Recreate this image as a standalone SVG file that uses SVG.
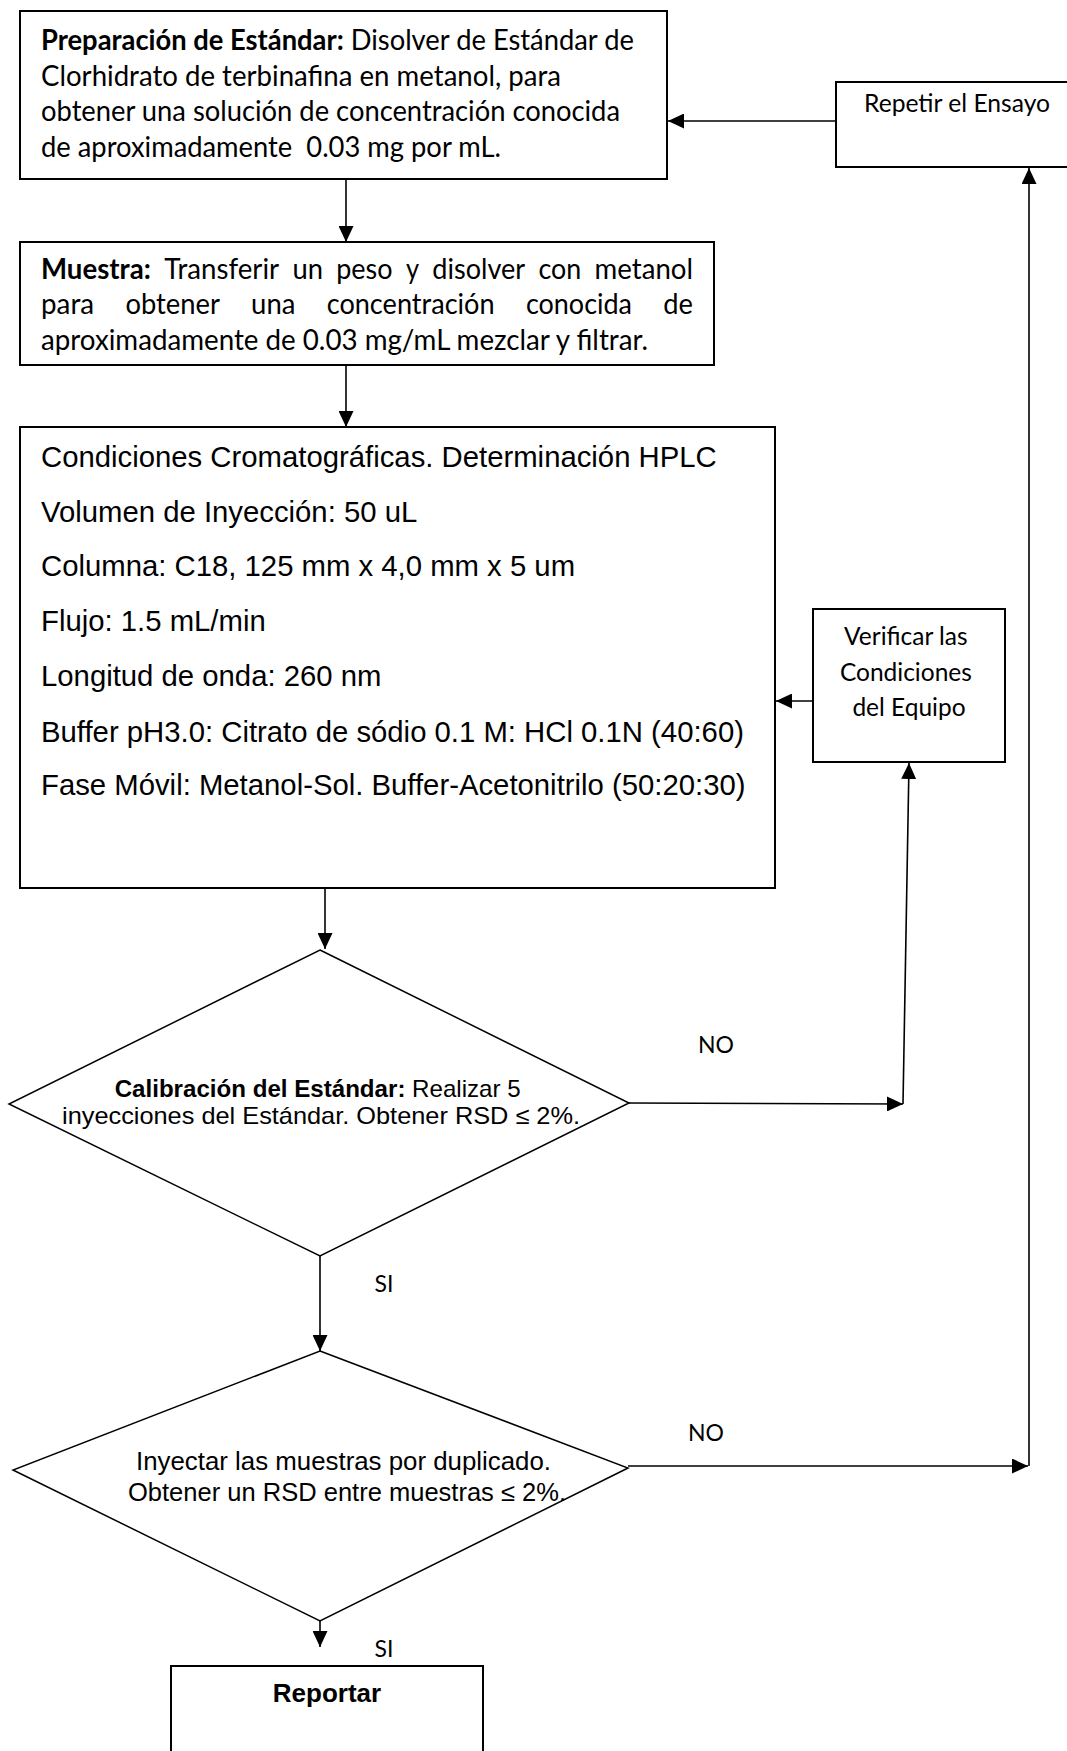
<svg xmlns="http://www.w3.org/2000/svg" width="1067" height="1751" viewBox="0 0 1067 1751">
<style>
.box{fill:#fff;stroke:#000;stroke-width:2}
.dia{fill:#fff;stroke:#000;stroke-width:1.5}
.c{fill:none;stroke:#000;stroke-width:1.6}
.cal{font-family:Lato,"Open Sans",sans-serif;fill:#000}
.ar{font-family:"Liberation Sans",Arial,sans-serif;fill:#000}
.b{font-weight:bold}
</style>
<defs>
<marker id="ah" markerUnits="userSpaceOnUse" markerWidth="16" markerHeight="15" refX="16" refY="7.5" orient="auto">
<path d="M0,0 L16,7.5 L0,15 z" fill="#000"/>
</marker>
</defs>
<rect width="1067" height="1751" fill="#fff"/>

<g id="prep">
<rect class="box" x="20" y="11" width="647" height="168"/>
<text class="cal" font-size="28">
<tspan x="41" y="50" textLength="593" lengthAdjust="spacingAndGlyphs"><tspan class="b">Preparación de Estándar:</tspan> Disolver de Estándar de</tspan>
<tspan x="41" y="86" textLength="520" lengthAdjust="spacingAndGlyphs">Clorhidrato de terbinafina en metanol, para</tspan>
<tspan x="41" y="121" textLength="579" lengthAdjust="spacingAndGlyphs">obtener una solución de concentración conocida</tspan>
<tspan x="41" y="157" textLength="460" lengthAdjust="spacingAndGlyphs">de aproximadamente&#160; 0.03 mg por mL.</tspan>
</text>
</g>

<g id="repetir">
<rect class="box" x="836" y="82" width="260" height="85"/>
<text class="cal" font-size="24.5" x="957" y="112" text-anchor="middle" textLength="186" lengthAdjust="spacingAndGlyphs">Repetir el Ensayo</text>
</g>

<g id="muestra">
<rect class="box" x="20" y="242" width="694" height="123"/>
<text class="cal" font-size="28">
<tspan x="41" y="279" class="b" textLength="109.8" lengthAdjust="spacingAndGlyphs">Muestra:</tspan><tspan x="164.2" y="279" textLength="114.9" lengthAdjust="spacingAndGlyphs">Transferir</tspan><tspan x="292.4" y="279" textLength="30.5" lengthAdjust="spacingAndGlyphs">un</tspan><tspan x="336.2" y="279" textLength="56.3" lengthAdjust="spacingAndGlyphs">peso</tspan><tspan x="405.9" y="279" textLength="13.1" lengthAdjust="spacingAndGlyphs">y</tspan><tspan x="432.3" y="279" textLength="92.8" lengthAdjust="spacingAndGlyphs">disolver</tspan><tspan x="538.5" y="279" textLength="42.8" lengthAdjust="spacingAndGlyphs">con</tspan><tspan x="594.6" y="279" textLength="98.4" lengthAdjust="spacingAndGlyphs">metanol</tspan>
<tspan x="41" y="314" textLength="53.1" lengthAdjust="spacingAndGlyphs">para</tspan><tspan x="125.4" y="314" textLength="94.5" lengthAdjust="spacingAndGlyphs">obtener</tspan><tspan x="251.1" y="314" textLength="44.3" lengthAdjust="spacingAndGlyphs">una</tspan><tspan x="326.7" y="314" textLength="167.9" lengthAdjust="spacingAndGlyphs">concentración</tspan><tspan x="525.9" y="314" textLength="106.1" lengthAdjust="spacingAndGlyphs">conocida</tspan><tspan x="663.3" y="314" textLength="29.7" lengthAdjust="spacingAndGlyphs">de</tspan>
<tspan x="41" y="350" textLength="607" lengthAdjust="spacingAndGlyphs">aproximadamente de 0.03 mg/mL mezclar y filtrar.</tspan>
</text>
</g>

<g id="condiciones">
<rect class="box" x="20" y="427" width="755" height="461"/>
<text class="ar" font-size="29.3">
<tspan x="41" y="467">Condiciones Cromatográficas. Determinación HPLC</tspan>
<tspan x="41" y="522">Volumen de Inyección: 50 uL</tspan>
<tspan x="41" y="576">Columna: C18, 125 mm x 4,0 mm x 5 um</tspan>
<tspan x="41" y="631">Flujo: 1.5 mL/min</tspan>
<tspan x="41" y="686">Longitud de onda: 260 nm</tspan>
<tspan x="41" y="742">Buffer pH3.0: Citrato de sódio 0.1 M: HCl 0.1N (40:60)</tspan>
<tspan x="41" y="795">Fase Móvil: Metanol-Sol. Buffer-Acetonitrilo (50:20:30)</tspan>
</text>
</g>

<g id="verificar">
<rect class="box" x="813" y="609" width="192" height="153"/>
<text class="cal" font-size="24.5" text-anchor="middle">
<tspan x="909" y="645">Verificar las</tspan>
<tspan x="909" y="681">Condiciones</tspan>
<tspan x="909" y="716">del Equipo</tspan>
</text>
</g>

<g id="calibracion">
<polygon class="dia" points="320,950 629,1103 320,1256 9,1104"/>
<text class="ar" font-size="24" text-anchor="middle">
<tspan x="321" y="1097" textLength="406" lengthAdjust="spacingAndGlyphs"><tspan class="b">Calibración del Estándar:</tspan> Realizar 5</tspan>
<tspan x="321" y="1124" textLength="518" lengthAdjust="spacingAndGlyphs">inyecciones del Estándar. Obtener RSD ≤ 2%.</tspan>
</text>
</g>

<g id="inyectar">
<polygon class="dia" points="320,1351 628,1468 320,1621 13,1470"/>
<text class="ar" font-size="25" text-anchor="middle">
<tspan x="347" y="1470" textLength="415" lengthAdjust="spacingAndGlyphs">Inyectar las muestras por duplicado.</tspan>
<tspan x="347" y="1501" textLength="438" lengthAdjust="spacingAndGlyphs">Obtener un RSD entre muestras ≤ 2%.</tspan>
</text>
</g>

<g id="reportar">
<rect class="box" x="171" y="1666" width="312" height="120"/>
<text class="ar b" font-size="26" x="327" y="1702" text-anchor="middle">Reportar</text>
</g>

<g id="connectors">
<line class="c" x1="346" y1="179" x2="346" y2="242" marker-end="url(#ah)"/>
<line class="c" x1="346" y1="365" x2="346" y2="427" marker-end="url(#ah)"/>
<line class="c" x1="325" y1="888" x2="325" y2="949" marker-end="url(#ah)"/>
<line class="c" x1="320" y1="1256" x2="320" y2="1351" marker-end="url(#ah)"/>
<line class="c" x1="320" y1="1621" x2="320" y2="1647" marker-end="url(#ah)"/>
<line class="c" x1="629" y1="1103" x2="903" y2="1104" marker-end="url(#ah)"/>
<line class="c" x1="903" y1="1104" x2="909" y2="763" marker-end="url(#ah)"/>
<line class="c" x1="813" y1="701" x2="776" y2="701" marker-end="url(#ah)"/>
<line class="c" x1="628" y1="1466" x2="1028" y2="1466" marker-end="url(#ah)"/>
<line class="c" x1="1029" y1="1466" x2="1029" y2="168" marker-end="url(#ah)"/>
<line class="c" x1="836" y1="121" x2="668" y2="121" marker-end="url(#ah)"/>
</g>

<g id="labels">
<text class="cal" font-size="23" x="716" y="1053" text-anchor="middle">NO</text>
<text class="cal" font-size="23" x="706" y="1441" text-anchor="middle">NO</text>
<text class="cal" font-size="23" x="384" y="1292" text-anchor="middle">SI</text>
<text class="cal" font-size="23" x="384" y="1657" text-anchor="middle">SI</text>
</g>
</svg>
